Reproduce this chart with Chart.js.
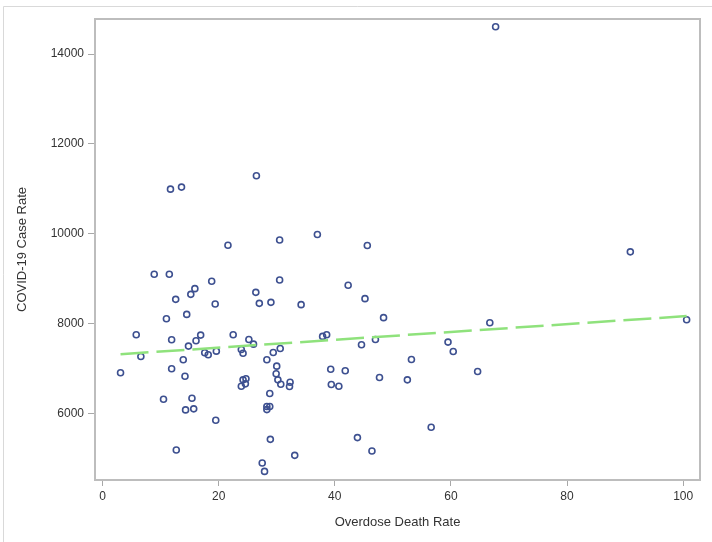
<!DOCTYPE html>
<html><head><meta charset="utf-8">
<script src="https://cdn.jsdelivr.net/npm/chart.js@4"></script>
<style>html,body{margin:0;padding:0;background:#fff}canvas{display:block}</style>
</head><body>
<canvas id="c" width="712" height="542"></canvas>
<script>
const overdoseDeathRate = [
  11.7, 13.6, 26.5, 21.6, 30.5, 8.9, 11.5, 18.8, 30.5, 15.9,
  15.2, 12.6, 26.4, 19.4, 27.0, 29.0, 34.2, 14.5, 11.0, 5.8,
  11.9, 16.9, 16.1, 14.8, 22.5, 25.2, 26.0, 6.6, 17.6, 18.2,
  19.6, 23.9, 24.2, 29.4, 30.6, 3.1, 13.9, 11.9, 14.2, 28.3,
  30.0, 29.9, 30.2, 30.7, 32.3, 32.2, 24.2, 24.7, 23.9, 24.6,
  10.5, 15.4, 14.3, 15.7, 19.5, 28.8, 28.3, 28.8, 28.3, 28.9,
  12.7, 27.5, 27.9, 33.1, 37.0, 45.6, 42.3, 45.2, 48.4, 66.7,
  37.9, 38.6, 44.6, 47.0, 59.5, 60.4, 53.2, 64.6, 39.3, 41.8,
  39.4, 40.7, 47.7, 52.5, 56.6, 43.9, 46.4, 67.7, 90.9, 100.6
];
const covidCaseRate = [
  10994, 11039, 11291, 9746, 9864, 9099, 9099, 8943, 8972, 8780,
  8653, 8542, 8698, 8437, 8453, 8475, 8424, 8207, 8111, 7755,
  7643, 7746, 7621, 7501, 7755, 7650, 7545, 7271, 7353, 7309,
  7389, 7427, 7344, 7360, 7449, 6907, 7197, 6997, 6832, 7197,
  7055, 6885, 6751, 6653, 6698, 6602, 6751, 6774, 6609, 6662,
  6319, 6341, 6082, 6105, 5851, 6446, 6156, 6156, 6089, 5427,
  5191, 4901, 4713, 5070, 9984, 9739, 8854, 8557, 8134, 8022,
  7717, 7755, 7532, 7650, 7590, 7382, 7204, 6936, 6988, 6952,
  6647, 6609, 6803, 6751, 5695, 5465, 5168, 14607, 9599, 8087
];
const fitX = [3.1, 100.6];
const fitY = [7320, 8170];
const xTickValues = [0, 20, 40, 60, 80, 100];
const yTickValues = [6000, 8000, 10000, 12000, 14000];
const xTitle = 'Overdose Death Rate';
const yTitle = 'COVID-19 Case Rate';

const FONT = "'Liberation Sans', Arial, sans-serif";

const framePlugin = {
  id: 'frame',
  beforeDraw(chart) {
    const ctx = chart.ctx;
    ctx.save();
    ctx.fillStyle = '#fff';
    ctx.fillRect(0, 0, chart.width, chart.height);
    ctx.strokeStyle = '#d9d9d9';
    ctx.lineWidth = 1;
    ctx.beginPath();
    ctx.moveTo(3.5, chart.height);
    ctx.lineTo(3.5, 6.5);
    ctx.lineTo(chart.width, 6.5);
    ctx.stroke();
    ctx.restore();
  },
  afterDraw(chart) {
    const a = chart.chartArea;
    const ctx = chart.ctx;
    ctx.save();
    ctx.strokeStyle = '#bdbdbd';
    ctx.lineWidth = 2;
    ctx.strokeRect(a.left, a.top, a.right - a.left, a.bottom - a.top);
    ctx.restore();
  }
};

new Chart(document.getElementById('c'), {
  type: 'scatter',
  data: {
    datasets: [
      {
        type: 'line',
        data: fitX.map((x, i) => ({x: x, y: fitY[i]})),
        borderColor: '#8fe27c',
        borderWidth: 2.5,
        borderDash: [28, 8],
        pointRadius: 0,
        fill: false
      },
      {
        data: overdoseDeathRate.map((x, i) => ({x: x, y: covidCaseRate[i]})),
        pointStyle: 'circle',
        pointRadius: 3,
        pointBorderWidth: 1.6,
        pointBorderColor: '#3d5090',
        pointBackgroundColor: 'rgba(0,0,0,0)',
        showLine: false
      }
    ]
  },
  options: {
    responsive: false,
    animation: false,
    layout: {padding: {left: 0, top: 19, right: 12, bottom: 0}},
    plugins: {legend: {display: false}, tooltip: {enabled: false}},
    scales: {
      x: {
        type: 'linear',
        position: 'bottom',
        min: -1.3,
        max: 102.9,
        afterBuildTicks: s => { s.ticks = xTickValues.map(v => ({value: v})); },
        afterFit: s => { s.height = 62; },
        border: {display: false},
        grid: {display: true, drawOnChartArea: false, drawTicks: true, tickLength: 6, tickColor: '#a8a8a8', tickWidth: 1},
        ticks: {color: '#333', font: {family: FONT, size: 12}, padding: 3, maxRotation: 0,
                callback: v => String(v)},
        title: {display: true, text: xTitle, color: '#333', font: {family: FONT, size: 13},
                padding: {top: 0, bottom: 12}}
      },
      y: {
        type: 'linear',
        min: 4522,
        max: 14780,
        afterBuildTicks: s => { s.ticks = yTickValues.map(v => ({value: v})); },
        afterFit: s => { s.width = 95; },
        border: {display: false},
        grid: {display: true, drawOnChartArea: false, drawTicks: true, tickLength: 7, tickColor: '#a8a8a8', tickWidth: 1},
        ticks: {color: '#333', font: {family: FONT, size: 12}, padding: 4,
                callback: v => String(v)},
        title: {display: true, text: yTitle, color: '#333', font: {family: FONT, size: 13},
                padding: {top: 15, bottom: 0}}
      }
    }
  },
  plugins: [framePlugin]
});
</script>
</body></html>
